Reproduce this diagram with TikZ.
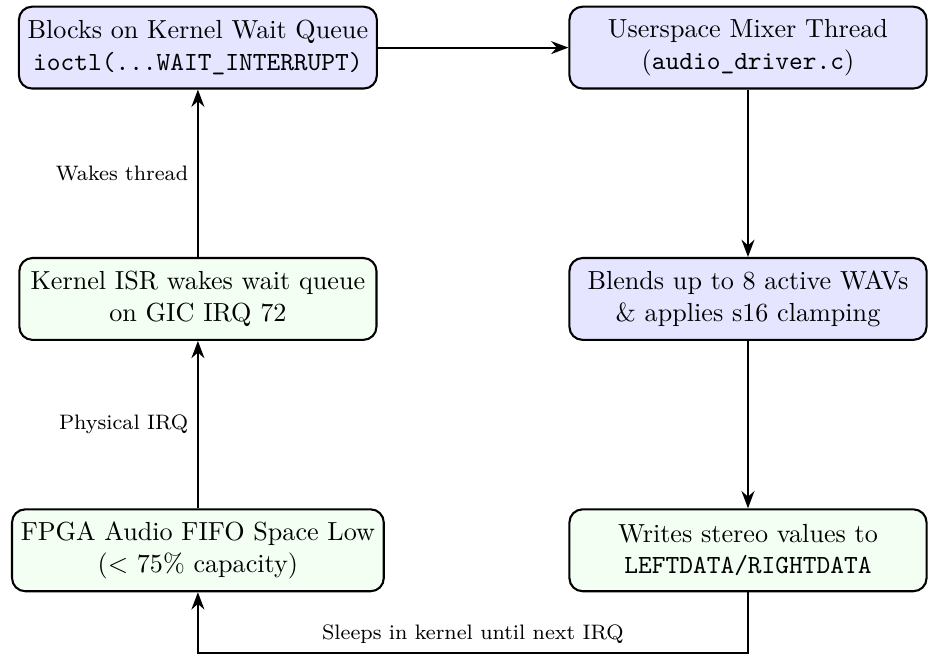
\documentclass[tikz,border=0pt]{standalone}
\usetikzlibrary{positioning,arrows.meta,calc}

\begin{document}
\begin{tikzpicture}[
  box/.style={rectangle, rounded corners=5pt, draw, thick, align=center, minimum width=4.8cm, minimum height=1.1cm},
  userbox/.style={box, fill=blue!10},
  kernbox/.style={box, fill=green!5},
  flow/.style={-{Stealth}, thick},
  lbl/.style={font=\footnotesize}
]
\useasboundingbox (-2.66,0.64) rectangle (9.84,-8.14);

% userspace side
\node[userbox] (wait) at (0,0) {Blocks on Kernel Wait Queue\\\texttt{ioctl(...WAIT\_INTERRUPT)}};
\node[userbox, right=2.56cm of wait] (mixer) {Userspace Mixer Thread\\(\texttt{audio\_driver.c})};
\node[userbox, below=2.25cm of mixer] (blend) {Blends up to 8 active WAVs\\\& applies s16 clamping};

% hardware / kernel side
\node[kernbox, below=2.25cm of blend] (write) {Writes stereo values to\\\texttt{LEFTDATA/RIGHTDATA}};
\node[kernbox, below=2.25cm of wait] (isr) {Kernel ISR wakes wait queue\\on GIC IRQ 72};
\node[kernbox, below=2.25cm of isr] (fifo) {FPGA Audio FIFO Space Low\\($<$ 75\% capacity)};

% return path along the bottom
\coordinate (sleepR) at ($(write.south)+(0,-0.82)$);
\coordinate (sleepL) at (fifo.south |- sleepR);

\draw[flow] (wait) -- (mixer);
\draw[flow] (mixer) -- (blend);
\draw[flow] (blend) -- (write);
\draw[flow] (fifo) -- node[lbl, left] {Physical IRQ} (isr);
\draw[flow] (isr) -- node[lbl, left] {Wakes thread} (wait);
\draw[flow] (write.south) -- (sleepR) -- node[lbl, above] {Sleeps in kernel until next IRQ} (sleepL) -- (fifo.south);

\end{tikzpicture}
\end{document}
